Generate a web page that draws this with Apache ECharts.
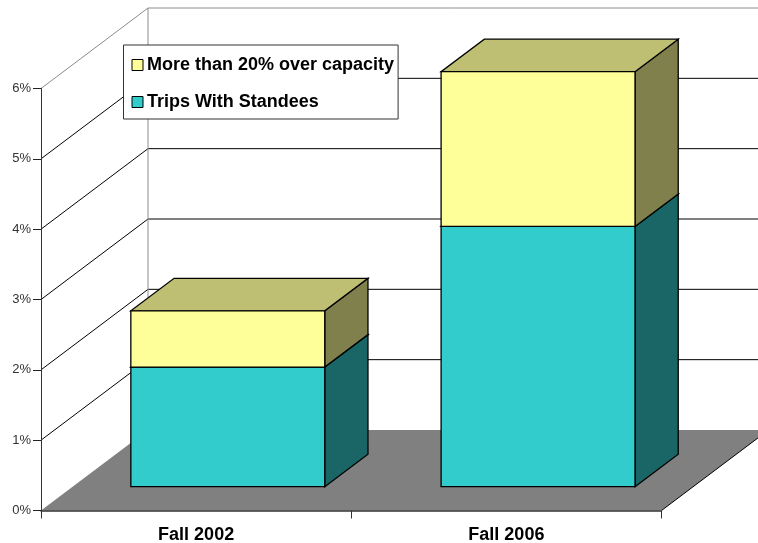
<!DOCTYPE html>
<html>
<head>
<meta charset="utf-8">
<style>html,body{margin:0;padding:0;background:#fff}#c{width:758px;height:543px}</style>
<script src="https://cdn.jsdelivr.net/npm/echarts@6/dist/echarts.min.js"></script>
</head>
<body>
<div id="c"></div>
<script>
// Share of trips, in percent
const categories = ['Fall 2002', 'Fall 2006'];
const tripsWithStandees = [1.7, 3.7];
const overCapacity = [0.8, 2.2];
const yTicks = [0, 1, 2, 3, 4, 5, 6];

const seriesNames = ['Trips With Standees', 'More than 20% over capacity'];
const frontColors = ['#33CCCC', '#FFFF99'];
const sideColors = ['#1A6666', '#80804D'];
const topColors = ['#269999', '#BFBF73'];

// Oblique projection of the chart box: how far the back wall sits from the front plane
const depthX = 107, depthY = -80.5;
const barFrontDepth = 0.296, barBackDepth = 0.70, barShare = 0.625;
const fontFamily = '"Liberation Sans", Arial, sans-serif';

const shift = (p, d) => [p[0] + depthX * d, p[1] + depthY * d];
const line = (a, b, stroke) => ({
  type: 'line', silent: true,
  shape: { x1: a[0], y1: a[1], x2: b[0], y2: b[1] },
  style: { stroke, lineWidth: 1 }
});
const poly = (points, fill, stroke) => ({
  type: 'polygon', silent: true,
  shape: { points },
  style: { fill, stroke: stroke || 'none', lineWidth: 1.3, lineJoin: 'miter' }
});

// Left wall, back wall gridlines and floor
function renderWalls(params, api) {
  const v = api.value(1);
  const sys = params.coordSys;
  const y = api.coord([0, v])[1];
  const front = [sys.x, y], frontRight = [sys.x + sys.width, y];
  const back = shift(front, 1), backRight = shift(frontRight, 1);
  const children = [];
  if (v === 0) {
    children.push(poly([front, frontRight, backRight, back], '#808080'));
    children.push(line(frontRight, backRight, '#000'));
  } else {
    const edge = v === 6 ? '#8c8c8c' : '#000';
    children.push(line(front, back, edge));
    children.push(line(back, backRight, edge));
  }
  if (v === 6) {
    const bottom = shift([sys.x, api.coord([0, 0])[1]], 1);
    children.push(line(back, bottom, '#8c8c8c'));
  }
  return { type: 'group', children };
}

function renderBar(layer) {
  return function (params, api) {
    const cat = api.value(0);
    const cx = api.coord([cat, 0])[0];
    const half = api.size([1, 0])[0] * barShare / 2;
    const y0 = api.coord([cat, api.value(1)])[1];
    const y1 = api.coord([cat, api.value(2)])[1];
    const bl = shift([cx - half, y0], barFrontDepth);
    const br = shift([cx + half, y0], barFrontDepth);
    const tl = shift([cx - half, y1], barFrontDepth);
    const tr = shift([cx + half, y1], barFrontDepth);
    const d = barBackDepth - barFrontDepth;
    const children = [
      poly([br, shift(br, d), shift(tr, d), tr], sideColors[layer], '#000'),
      poly([tl, tr, shift(tr, d), shift(tl, d)], topColors[layer], '#000'),
      poly([bl, br, tr, tl], frontColors[layer], '#000')
    ];
    return { type: 'group', children };
  };
}

const lowerSpans = tripsWithStandees.map((v, i) => [i, 0, v]);
const upperSpans = overCapacity.map((v, i) => [i, tripsWithStandees[i], tripsWithStandees[i] + v]);

const chart = echarts.init(document.getElementById('c'), null, { renderer: 'canvas' });
chart.setOption({
  animation: false,
  backgroundColor: '#fff',
  grid: { left: 41, top: 88.5, width: 620.5, height: 422, containLabel: false, outerBoundsMode: 'none' },
  legend: {
    orient: 'vertical', left: 123.5, top: 45,
    padding: [11, 4, 8, 8], itemGap: 19, itemWidth: 11, itemHeight: 11, itemStyle: {borderColor: '#000', borderWidth: 1},
    backgroundColor: '#fff', borderColor: '#333', borderWidth: 1, borderRadius: 0,
    icon: 'rect', selectedMode: false,
    textStyle: { fontFamily, fontWeight: 'bold', fontSize: 18, color: '#000', padding: [0, 0, 0, -1] },
    data: [seriesNames[1], seriesNames[0]]
  },
  xAxis: {
    type: 'category', data: categories, z: 5,
    axisLine: { lineStyle: { color: '#333', width: 1.5 } },
    axisTick: { show: true, length: 8, alignWithLabel: false, lineStyle: { color: '#333' } },
    axisLabel: { fontFamily, fontWeight: 'bold', fontSize: 18, color: '#000', margin: 16 },
    splitLine: { show: false }
  },
  yAxis: {
    type: 'value', min: 0, max: 6, interval: 1, z: 5,
    axisLine: { show: true, lineStyle: { color: '#333', width: 1 } },
    axisTick: { show: true, length: 8, lineStyle: { color: '#222' } },
    axisLabel: { fontFamily, fontSize: 13, color: '#333', margin: 10, formatter: '{value}%' },
    splitLine: { show: false }
  },
  series: [
    { type: 'custom', name: 'walls', silent: true, z: 1, clip: false,
      data: yTicks.map(v => [0, v]), encode: { x: 0, y: 1 }, renderItem: renderWalls },
    { type: 'custom', name: seriesNames[0], z: 2, clip: false, itemStyle: { color: frontColors[0] },
      data: lowerSpans, encode: { x: 0, y: [1, 2] }, renderItem: renderBar(0) },
    { type: 'custom', name: seriesNames[1], z: 3, clip: false, itemStyle: { color: frontColors[1] },
      data: upperSpans, encode: { x: 0, y: [1, 2] }, renderItem: renderBar(1) }
  ]
});
</script>
</body>
</html>
